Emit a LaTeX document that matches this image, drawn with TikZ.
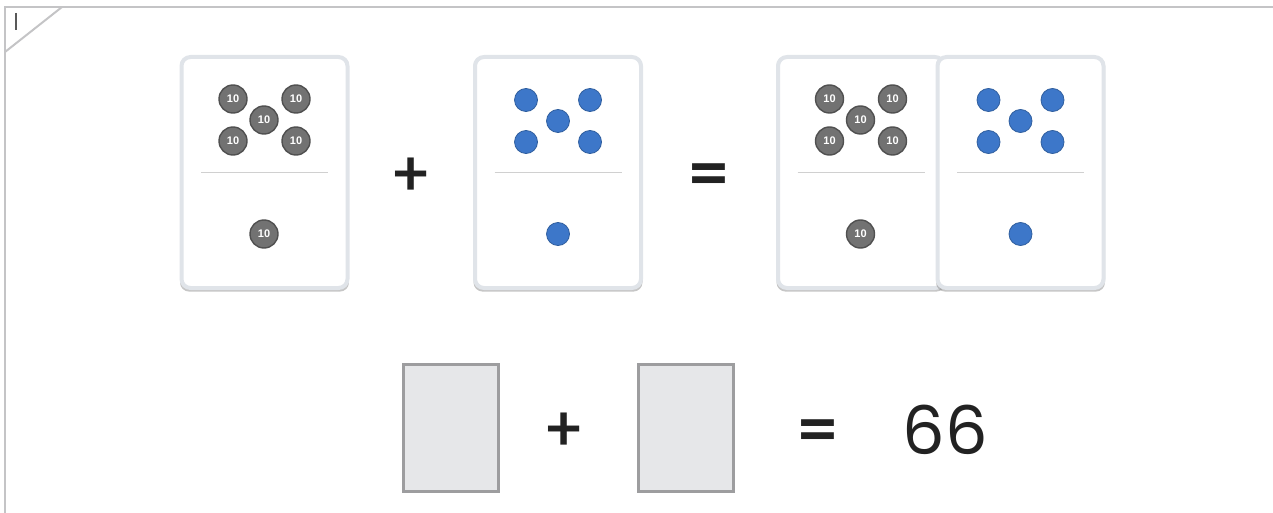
\documentclass[tikz,border=0pt]{standalone}
\usepackage{fontspec}
\setmainfont{Poppins}
\newfontfamily\coinfont{Liberation Sans}
\newfontfamily\signfont{Lato}
\usepackage{tikz}
\usetikzlibrary{shadows}
\usetikzlibrary{positioning}

\definecolor{framegray}{HTML}{C4C4C6}
\definecolor{cardedge}{HTML}{E0E4E9}
\definecolor{coingray}{HTML}{727272}
\definecolor{coinedge}{HTML}{505050}
\definecolor{dotblue}{HTML}{3D77C9}
\definecolor{dotedge}{HTML}{2F5E9E}
\definecolor{dividergray}{HTML}{D0D0D0}
\definecolor{boxfill}{HTML}{E6E7E9}
\definecolor{boxedge}{HTML}{9D9D9F}
\definecolor{signblack}{HTML}{222222}

\begin{document}
\begin{tikzpicture}[x=1pt,y=-1pt]
    \newcommand{\cardwidth}[0]{166pt}
    \newcommand{\cardheight}[0]{231pt}

    \tikzstyle{frameline}=[draw=framegray, line width=2.5pt]
    \tikzstyle{card}=[
      rectangle,
      rounded corners=9pt,
      draw=cardedge,
      fill=white,
      line width=4pt,
      minimum width=\cardwidth,
      minimum height=\cardheight,
      drop shadow={shadow scale=1.018, shadow xshift=0pt, shadow yshift=-1.5pt, opacity=0.45, fill=gray},
    ]
    \tikzstyle{tencoin}=[
      circle,
      fill=coingray,
      draw=coinedge,
      line width=1.4pt,
      minimum size=28pt,
      inner sep=0pt,
      text=white,
      font=\coinfont\bfseries\fontsize{11}{11}\selectfont,
    ]
    \tikzstyle{onedot}=[
      circle,
      fill=dotblue,
      draw=dotedge,
      line width=0.8pt,
      minimum size=23pt,
      inner sep=0pt,
    ]
    \tikzstyle{divider}=[draw=dividergray, line width=1.2pt]
    \tikzstyle{operator}=[
      text=signblack,
      inner sep=0pt,
      font=\signfont\bfseries\fontsize{64}{64}\selectfont,
    ]
    \tikzstyle{equalsign}=[
      operator,
      font=\signfont\bfseries\fontsize{74}{74}\selectfont,
    ]
    \tikzstyle{answerbox}=[
      rectangle,
      draw=boxedge,
      fill=boxfill,
      line width=2.5pt,
      minimum width=95pt,
      minimum height=127pt,
    ]

    \newcommand{\tensfill}[1]{
      \foreach \dx/\dy [count=\i] in {-31.5/-73.5, 31.5/-73.5, -0.5/-52.5, -31.5/-31.5, 31.5/-31.5}
        \node[tencoin] (#1-top\i) at ([shift={(\dx,\dy)}]#1.center) {10};
      \draw[divider] ([xshift=-63.5pt]#1.center) -- ([xshift=63.5pt]#1.center);
      \node[tencoin] (#1-bottom) at ([shift={(-0.5,61.5)}]#1.center) {10};
    }
    \newcommand{\onesfill}[1]{
      \foreach \dx/\dy [count=\i] in {-32/-72.5, 32/-72.5, 0/-51.5, -32/-30.5, 32/-30.5}
        \node[onedot] (#1-top\i) at ([shift={(\dx,\dy)}]#1.center) {};
      \draw[divider] ([xshift=-63.5pt]#1.center) -- ([xshift=63.5pt]#1.center);
      \node[onedot] (#1-bottom) at ([shift={(0,61.5)}]#1.center) {};
    }

    \useasboundingbox (0,0) rectangle (1273,513);

    % outer frame
    \draw[frameline] (5,513) -- (5,7) -- (1273,7);
    \draw[frameline, line width=2pt] (5,52) -- (62,7);
    \draw[draw=black!65, line width=1.3pt] (16,13) -- (16,30);

    % top row
    \node[card] (tenscard) at (264.5,172.5) {};
    \tensfill{tenscard}
    \node[operator] (topplus) at (411,177) {+};
    \node[card] (onescard) at (558,172.5) {};
    \onesfill{onescard}
    \node[equalsign] (topequals) at (709,181) {=};
    \node[card] (sumtens) at (861,172.5) {};
    \tensfill{sumtens}
    \node[card] (sumones) at (1020.5,172.5) {};
    \onesfill{sumones}

    % bottom row
    \node[answerbox] (answertens) at (451,428) {};
    \node[operator] (bottomplus) at (564,432) {+};
    \node[answerbox] (answerones) at (686,428) {};
    \node[equalsign] (bottomequals) at (818,437) {=};
    \node[text=signblack, inner sep=0pt, font=\fontsize{67}{67}\selectfont] (total) at (945,430) {66};
\end{tikzpicture}
\end{document}
